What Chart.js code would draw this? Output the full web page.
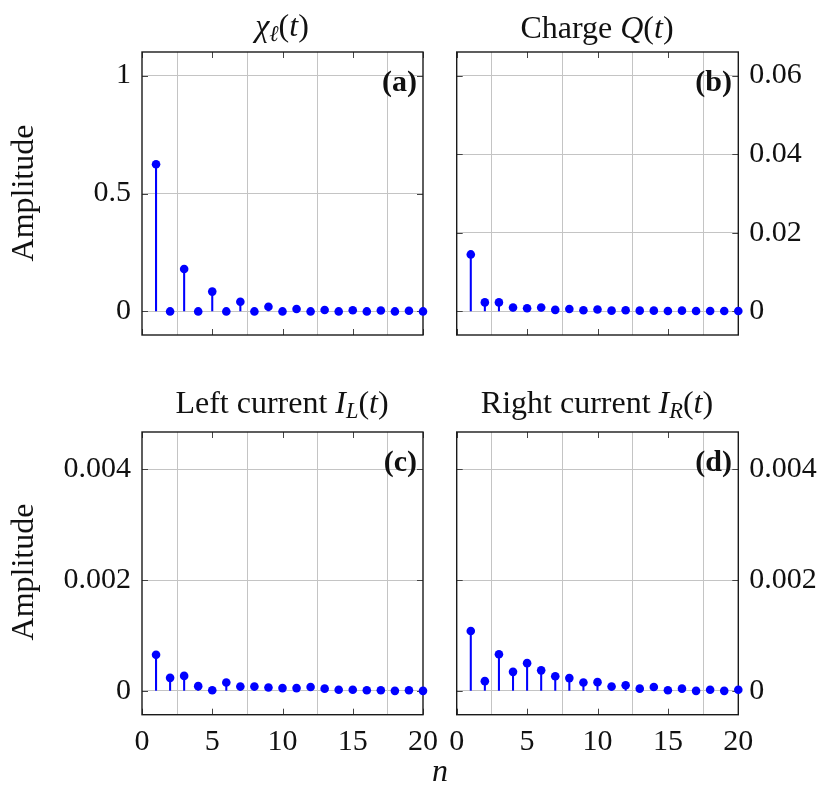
<!DOCTYPE html>
<html>
<head>
<meta charset="utf-8">
<script src="https://cdn.jsdelivr.net/npm/chart.js@4.4.1/dist/chart.umd.min.js"></script>
<style>
    body { margin: 0; background: #fff; }
    #wrap { position: relative; width: 831px; height: 791px; font-family: "Liberation Serif", serif; color: #111; }
    canvas { position: absolute; }
    .lbl { position: absolute; font-size: 32px; white-space: nowrap; transform: translate(-50%, -50%); }
    .tag { position: absolute; font-size: 30px; font-weight: bold; white-space: nowrap; transform: translate(-100%, -50%); }
    .rot { transform: translate(-50%, -50%) rotate(-90deg); }
    sub { font-size: 0.7em; vertical-align: -0.25em; }
</style>
</head>
<body>
<div id="wrap">
    <canvas id="chartA" width="440" height="320" style="left:0; top:40px"></canvas>
    <canvas id="chartB" width="391" height="320" style="left:440px; top:40px"></canvas>
    <canvas id="chartC" width="440" height="371" style="left:0; top:420px"></canvas>
    <canvas id="chartD" width="391" height="371" style="left:440px; top:420px"></canvas>

    <div class="lbl" style="left:282px; top:27px"><i>χ</i><sub><i>ℓ</i></sub>(<i>t</i>)</div>
    <div class="lbl" style="left:597px; top:27px">Charge <i>Q</i>(<i>t</i>)</div>
    <div class="lbl" style="left:282px; top:404px">Left current <i>I</i><sub><i>L</i></sub>(<i>t</i>)</div>
    <div class="lbl" style="left:597px; top:404px">Right current <i>I</i><sub><i>R</i></sub>(<i>t</i>)</div>
    <div class="lbl rot" style="left:22px; top:193px">Amplitude</div>
    <div class="lbl rot" style="left:22px; top:572px">Amplitude</div>
    <div class="lbl" style="left:440px; top:770px"><i>n</i></div>
    <div class="tag" style="left:417px; top:81px">(a)</div>
    <div class="tag" style="left:732px; top:81px">(b)</div>
    <div class="tag" style="left:417px; top:461px">(c)</div>
    <div class="tag" style="left:732px; top:461px">(d)</div>
</div>

<script>
// harmonic index
const harmonics = [1, 2, 3, 4, 5, 6, 7, 8, 9, 10, 11, 12, 13, 14, 15, 16, 17, 18, 19, 20];

// amplitudes per panel
const chiAmp = [0.624, 0, 0.18, 0, 0.084, 0, 0.041, 0, 0.02, 0, 0.01, 0, 0.006, 0, 0.005, 0, 0.004, 0, 0.003, 0];
const chargeAmp = [0.0145, 0.0023, 0.0023, 0.001, 0.0008, 0.001, 0.0004, 0.0006, 0.0003, 0.0005,
    0.0002, 0.0003, 0.0002, 0.0002, 0.0001, 0.0002, 0.0001, 0.0001, 0.0001, 0.0001];
const leftAmp = [0.00065, 0.000235, 0.00027, 0.000085, 0.00001, 0.00015, 0.00008, 0.00008, 0.00006, 0.00005,
    0.00005, 0.00007, 0.00004, 0.00002, 0.00002, 0.00001, 0.00001, 0, 0.00001, 0];
const rightAmp = [0.00108, 0.000175, 0.00066, 0.000343, 0.0005, 0.00037, 0.000265, 0.00023, 0.000152, 0.000157,
    0.00008, 0.0001, 0.00004, 0.00007, 0.00001, 0.00004, 0, 0.00002, 0, 0.00002];

// ticks
const xTicks = [0, 5, 10, 15, 20];
const chiTicks = [0, 0.5, 1];
const chiTickLabels = ["0", "0.5", "1"];
const chargeTicks = [0, 0.02, 0.04, 0.06];
const chargeTickLabels = ["0", "0.02", "0.04", "0.06"];
const currentTicks = [0, 0.002, 0.004];
const currentTickLabels = ["0", "0.002", "0.004"];


const framePlugin = {
    id: "frame",
    beforeDatasetsDraw(chart) {
        const a = chart.chartArea;
        const ctx = chart.ctx;
        ctx.save();
        // small inward ticks
        ctx.strokeStyle = "#444";
        ctx.lineWidth = 1;
        ctx.beginPath();
        chart.scales.x.ticks.forEach(t => {
            const px = Math.round(chart.scales.x.getPixelForValue(t.value)) + 0.5;
            ctx.moveTo(px, a.top); ctx.lineTo(px, a.top + 6);
            ctx.moveTo(px, a.bottom); ctx.lineTo(px, a.bottom - 6);
        });
        chart.scales.y.ticks.forEach(t => {
            const py = Math.round(chart.scales.y.getPixelForValue(t.value)) + 0.5;
            ctx.moveTo(a.left, py); ctx.lineTo(a.left + 6, py);
            ctx.moveTo(a.right, py); ctx.lineTo(a.right - 6, py);
        });
        ctx.stroke();
        ctx.strokeStyle = "#1a1a1a";
        ctx.lineWidth = 1.4;
        ctx.strokeRect(a.left, a.top, a.right - a.left, a.bottom - a.top);
        ctx.restore();
    }
};


function renderStem(id, values, yMin, yMax, yTicks, yLabels, side, showX, padding, yWidth, xHeight) {
    const canvas = document.getElementById(id);

    const points = harmonics.map((n, i) => ({ x: n, y: values[i] }));

    new Chart(canvas, {
        type: "bar",
        data: {
            datasets: [{
                type: "scatter",
                data: points,
                pointRadius: 4.3,
                pointBackgroundColor: "#0000ff",
                pointBorderWidth: 0,
                clip: false,
                order: 0
            }, {
                type: "bar",
                data: points,
                backgroundColor: "#0000ff",
                barThickness: 1.4,
                clip: false,
                order: 1
            }]
        },
        options: {
            responsive: false,
            animation: false,
            layout: { padding: padding, autoPadding: false },
            plugins: {
                legend: { display: false },
                tooltip: { enabled: false }
            },
            scales: {
                x: {
                    type: "linear",
                    offset: false,
                    min: 0,
                    max: 20,
                    afterBuildTicks: s => { s.ticks = xTicks.map(v => ({ value: v })); },
                    afterFit: s => {
                        s.height = xHeight;
                        s.paddingLeft = 0;
                        s.paddingRight = 0;
                    },
                    grid: { color: "#c4c4c4", lineWidth: 1, drawTicks: false },
                    border: { display: false },
                    ticks: {
                        display: showX,
                        padding: 9,
                        color: "#111",
                        font: { family: "Liberation Serif", size: 30 }
                    }
                },
                y: {
                    type: "linear",
                    position: side,
                    min: yMin,
                    max: yMax,
                    afterBuildTicks: s => { s.ticks = yTicks.map(v => ({ value: v })); },
                    afterFit: s => {
                        s.width = yWidth;
                        s.paddingTop = 0;
                        s.paddingBottom = 0;
                    },
                    grid: { color: "#c4c4c4", lineWidth: 1, drawTicks: false },
                    border: { display: false },
                    ticks: {
                        padding: 11,
                        color: "#111",
                        font: { family: "Liberation Serif", size: 30 },
                        callback: (v, i) => yLabels[i]
                    }
                }
            }
        },
        plugins: [framePlugin]
    });
}

renderStem("chartA", chiAmp, -0.1, 1.1, chiTicks, chiTickLabels, "left", false,
    { top: 12, right: 17, left: 0, bottom: 0 }, 142, 25);
renderStem("chartB", chargeAmp, -0.006, 0.066, chargeTicks, chargeTickLabels, "right", false,
    { top: 12, right: 0, left: 16.7, bottom: 0 }, 92.7, 25);
renderStem("chartC", leftAmp, -0.00043, 0.00467, currentTicks, currentTickLabels, "left", true,
    { top: 12, right: 17, left: 0, bottom: 0 }, 142, 76.3);
renderStem("chartD", rightAmp, -0.00043, 0.00467, currentTicks, currentTickLabels, "right", true,
    { top: 12, right: 0, left: 16.7, bottom: 0 }, 92.7, 76.3);
</script>
</body>
</html>
